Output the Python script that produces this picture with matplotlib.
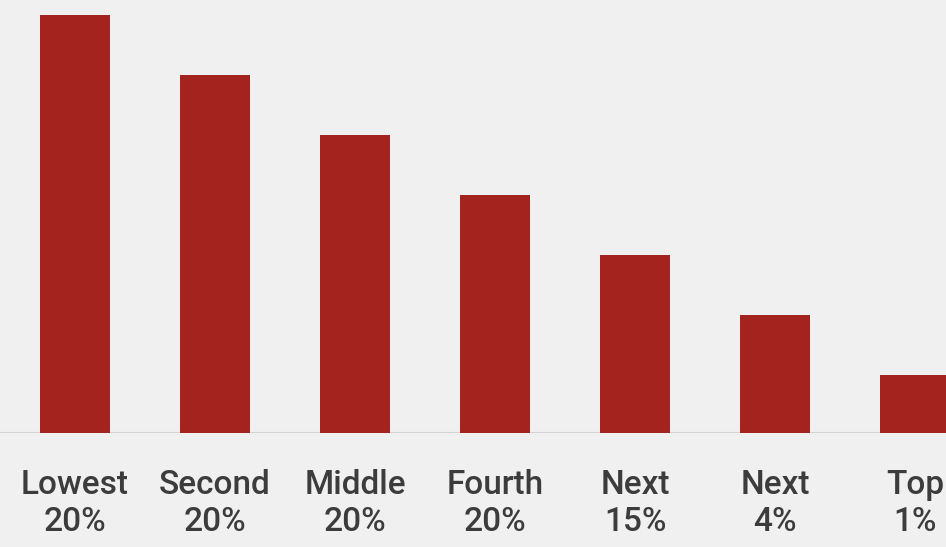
import numpy as np
import matplotlib.pyplot as plt

plt.rcParams['font.family'] = ['Roboto', 'DejaVu Sans']

groups = ['Lowest', 'Second', 'Middle', 'Fourth', 'Next', 'Next', 'Top']
shares = ['20%', '20%', '20%', '20%', '15%', '4%', '1%']
values = [6.97, 5.97, 4.97, 3.97, 2.97, 1.97, 0.97]

bg = '#f0f0f0'
fig = plt.figure(figsize=(9.46, 5.47), dpi=100, facecolor=bg)
ax = fig.add_axes([0, 0.2084, 1, 0.7916])
ax.set_facecolor(bg)

x = np.arange(len(values))
ax.axhline(0, color='#d4d4d4', lw=1.5, zorder=1)
ax.bar(x, values, width=0.5, color='#a5231f', zorder=2)

ax.set_xlim(-75 / 140, (946 - 75) / 140)
ax.set_ylim(0, 433 / 60)

ax.set_xticks(x)
ax.set_xticklabels([g + '\n' + s for g, s in zip(groups, shares)],
                   fontsize=24, fontweight='medium', color='#3c3c3c',
                   linespacing=1.2)
ax.tick_params(axis='x', length=0, pad=26)
ax.set_yticks([])
for s in ax.spines.values():
    s.set_visible(False)

fig.savefig('out.png', dpi=100, facecolor=bg)
